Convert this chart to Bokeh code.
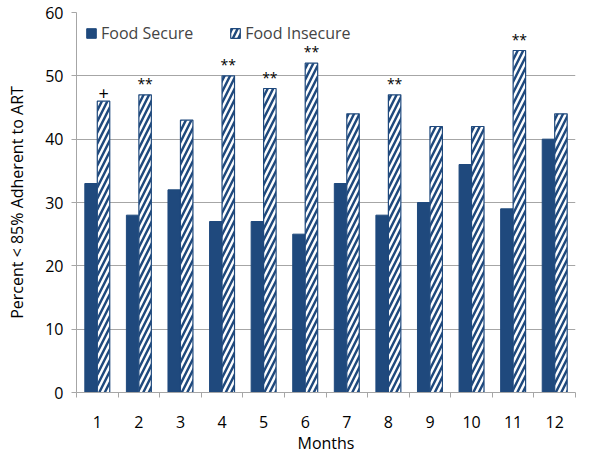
from bokeh.plotting import figure
from bokeh.models import ColumnDataSource, FixedTicker, Legend, LegendItem, CDSView, BooleanFilter
from bokeh.transform import dodge
from bokeh.core.properties import value
from bokeh.embed import file_html
from bokeh.resources import INLINE

months = [1, 2, 3, 4, 5, 6, 7, 8, 9, 10, 11, 12]
food_secure = [33, 28, 32, 27, 27, 25, 33, 28, 30, 36, 29, 40]
food_insecure = [46, 47, 43, 50, 48, 52, 44, 47, 42, 42, 54, 44]
significance = ["+", "**", "", "**", "**", "**", "", "**", "", "", "**", ""]

DARK = "#1F497D"
GRID = "#A6A6A6"
FONT = "Open Sans"

src = ColumnDataSource(dict(m=months, sec=food_secure, ins=food_insecure, sig=significance))

p = figure(width=600, height=456, output_backend="svg", toolbar_location=None,
           x_range=(0.5, 12.5), y_range=(0, 60),
           min_border_left=76, min_border_right=25, min_border_top=12, min_border_bottom=60)
p.outline_line_color = None
p.background_fill_color = "white"

r1 = p.vbar(x=dodge("m", -0.15), top="sec", width=0.3, source=src,
            fill_color=DARK, line_color=DARK)
r2 = p.vbar(x=dodge("m", 0.15), top="ins", width=0.3, source=src,
            fill_color="white", line_color=DARK, line_width=1.2,
            hatch_pattern="/", hatch_color=DARK, hatch_scale=11, hatch_weight=2.5)

star_view = CDSView(filter=BooleanFilter([s == "**" for s in significance]))
plus_view = CDSView(filter=BooleanFilter([s == "+" for s in significance]))
p.text(x=dodge("m", 0.15), y="ins", text="sig", source=src, view=star_view, text_align="center",
       text_baseline="bottom", y_offset=-2, text_font=value(FONT), text_font_size="14px",
       text_color="black")
p.text(x=dodge("m", 0.15), y="ins", text="sig", source=src, view=plus_view, text_align="center",
       text_baseline="bottom", y_offset=-1, text_font=value(FONT), text_font_size="18px",
       text_color="black")

# axes
p.xgrid.grid_line_color = None
p.ygrid.grid_line_color = GRID
p.ygrid.grid_line_width = 1
p.yaxis.ticker = FixedTicker(ticks=[0, 10, 20, 30, 40, 50, 60])
p.xaxis.ticker = FixedTicker(ticks=months, minor_ticks=[m - 0.5 for m in months] + [12.5])
for ax in (p.xaxis, p.yaxis):
    ax.axis_line_color = GRID
    ax.major_tick_line_color = GRID
    ax.minor_tick_line_color = GRID
    ax.major_label_text_font = FONT
    ax.major_label_text_font_size = "16px"
    ax.major_label_text_color = "black"
    ax.axis_label_text_font = FONT
    ax.axis_label_text_font_size = "16px"
    ax.axis_label_text_font_style = "normal"
    ax.axis_label_text_color = "black"
p.yaxis.major_tick_in = 0
p.yaxis.major_tick_out = 5
p.yaxis.minor_tick_line_color = None
p.yaxis.major_label_standoff = 8
p.xaxis.major_tick_line_color = None
p.xaxis.minor_tick_in = 0
p.xaxis.minor_tick_out = 5
p.xaxis.major_label_standoff = 17
p.xaxis.axis_label = "Months"
p.xaxis.axis_label_standoff = 1
p.yaxis.axis_label = "Percent < 85% Adherent to ART"
p.yaxis.axis_label_standoff = 14

legend = Legend(items=[LegendItem(label="Food Secure", renderers=[r1]),
                       LegendItem(label="Food Insecure", renderers=[r2])],
                location=(9, 348), orientation="horizontal",
                label_text_font=FONT, label_text_font_size="16px",
                glyph_width=12, glyph_height=12, label_standoff=4, spacing=36,
                padding=0, margin=0, border_line_color=None,
                background_fill_alpha=0)
p.add_layout(legend)

open("out.html", "w").write(file_html(p, INLINE))
